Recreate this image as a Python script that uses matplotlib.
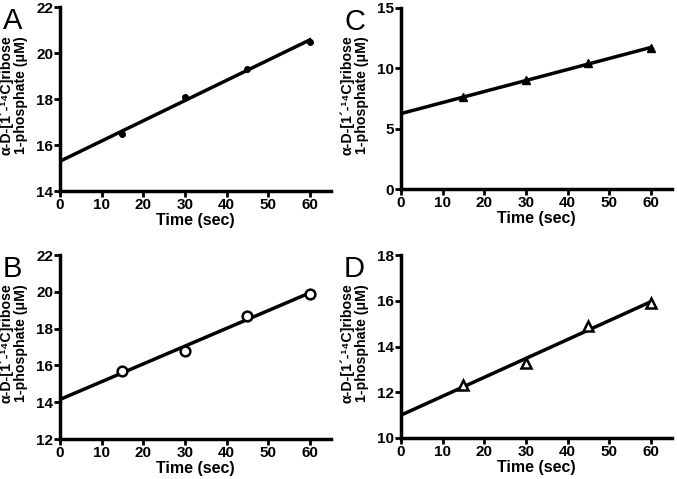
import numpy as np
import matplotlib
matplotlib.use("Agg")
from matplotlib import pyplot as plt

plt.rcParams['font.family'] = ['Liberation Sans', 'DejaVu Sans']

# data
time = [15, 30, 45, 60]
conc_a = [16.5, 18.1, 19.3, 20.5]
conc_b = [15.7, 16.8, 18.7, 19.9]
conc_c = [7.6, 9.0, 10.4, 11.7]
conc_d = [12.3, 13.3, 14.9, 15.9]

ylims = {"A": (14, 22, 2), "B": (12, 22, 2), "C": (0, 15, 5), "D": (10, 18, 2)}

fig = plt.figure(figsize=(6.77, 4.79), dpi=100)

# left, bottom, width, height
boxes = {
    "A": [0.0886, 0.601, 0.400, 0.384],
    "C": [0.5923, 0.6054, 0.400, 0.378],
    "B": [0.0886, 0.0835, 0.400, 0.384],
    "D": [0.5923, 0.0856, 0.400, 0.382],
}
series = {"A": conc_a, "B": conc_b, "C": conc_c, "D": conc_d}
markers = {
    "A": dict(marker="o", ms=4, mfc="black"),
    "B": dict(marker="o", ms=7, mfc="white", mew=1.8),
    "C": dict(marker="^", ms=6, mfc="black"),
    "D": dict(marker="^", ms=7, mfc="white", mew=1.8),
}

ylabel = "\u03b1-D-[1\u00b4-\u00b9\u2074C]ribose\n1-phosphate (\u03bcM)"

for key in ["A", "B", "C", "D"]:
    ax = fig.add_axes(boxes[key])
    y = series[key]
    slope, icpt = np.polyfit(time, y, 1)
    xs = np.array([0, 60])
    ax.plot(xs, icpt + slope * xs, color="black", lw=2.5, zorder=2)
    ax.plot(time, y, ls="none", mec="black", zorder=3, **markers[key])

    lo, hi, step = ylims[key]
    ax.set_xlim(0, 65)
    ax.set_ylim(lo, hi)
    ax.set_xticks(range(0, 61, 10))
    ax.set_yticks(np.arange(lo, hi + 0.1, step))
    for s in ["top", "right"]:
        ax.spines[s].set_visible(False)
    for s in ["left", "bottom"]:
        ax.spines[s].set_linewidth(2.5)
    ax.tick_params(width=2, length=4, labelsize=11, pad=1)
    for lab in ax.get_xticklabels() + ax.get_yticklabels():
        lab.set_fontweight("bold")
    ax.set_xlabel("Time (sec)", fontsize=11.5, fontweight="bold", labelpad=1)
    ax.set_ylabel(ylabel, fontsize=10.2, fontweight="bold", linespacing=1.05)
    ax.yaxis.set_label_coords(-0.118, 0.52)
    # panel letter sits at the figure's left edge of each column
    ax.text(-57 / 271, 1.0, key, transform=ax.transAxes, fontsize=21,
            ha="left", va="top")

plt.savefig("out.png", dpi=100)
